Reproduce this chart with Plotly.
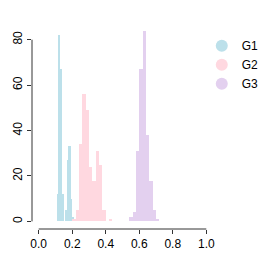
import plotly.graph_objects as go

groups = ["G1", "G2", "G3"]
colors = ["#BCE0EA", "#FFD8E0", "#E3D0EF"]

g1_bin_start = [0.11, 0.12, 0.13, 0.14, 0.15, 0.16, 0.17, 0.18, 0.19, 0.20]
g1_counts = [12, 82, 67, 12, 0, 5, 27, 33, 10, 2]
g1_width = 0.01

g2_bin_start = [0.20, 0.22, 0.24, 0.26, 0.28, 0.30, 0.32, 0.34, 0.36, 0.38, 0.40, 0.42]
g2_counts = [1, 5, 34, 56, 49, 24, 18, 31, 25, 5, 0, 1]
g2_width = 0.02

g3_bin_start = [0.54, 0.56, 0.58, 0.60, 0.62, 0.64, 0.66, 0.68, 0.70]
g3_counts = [2, 4, 31, 67, 84, 38, 18, 5, 1]
g3_width = 0.02

x_ticks = [0.0, 0.2, 0.4, 0.6, 0.8, 1.0]
x_tick_labels = ["0.0", "0.2", "0.4", "0.6", "0.8", "1.0"]
y_ticks = [0, 20, 40, 60, 80]

series = [
    (g1_bin_start, g1_counts, g1_width),
    (g2_bin_start, g2_counts, g2_width),
    (g3_bin_start, g3_counts, g3_width),
]

fig = go.Figure()
for name, col, (starts, counts, w) in zip(groups, colors, series):
    fig.add_trace(go.Bar(
        x=[s + w / 2 for s in starts], y=counts, width=w,
        marker=dict(color=col, line=dict(width=0)),
        name=name, showlegend=False,
    ))
for name, col in zip(groups, colors):
    fig.add_trace(go.Scatter(
        x=[None], y=[None], mode="markers", name=name,
        marker=dict(symbol="circle", size=11, color=col),
    ))

# the page body adds an 8px offset, so the figure is 260x260 with margins compensated
fig.update_layout(
    width=260, height=260,
    margin=dict(l=23.6, r=54.8, t=14.7, b=39.4, autoexpand=False),
    paper_bgcolor="white", plot_bgcolor="white",
    font=dict(family="Liberation Sans, Arial, sans-serif", size=12, color="black"),
    barmode="overlay", bargap=0,
    showlegend=True,
    legend=dict(x=0.938, y=0.96, xanchor="left", yanchor="top",
                font=dict(size=12), bgcolor="rgba(0,0,0,0)",
                itemsizing="constant", tracegroupgap=0),
)
fig.update_xaxes(range=[-0.04, 1.04], showgrid=False, zeroline=False, showline=False,
                 automargin=False,
                 tickmode="array", tickvals=x_ticks, ticktext=x_tick_labels,
                 ticks="outside", ticklen=4, tickcolor="#333", tickwidth=1)
fig.update_yaxes(range=[-3.36, 87.36], showgrid=False, zeroline=False, showline=False,
                 automargin=False,
                 tickmode="array", tickvals=y_ticks, tickangle=-90,
                 ticks="outside", ticklen=4, tickcolor="#333", tickwidth=1)
# R-style axis lines spanning only the tick range
fig.add_shape(type="line", xref="x", yref="paper", x0=x_ticks[0], x1=x_ticks[-1], y0=0, y1=0,
              line=dict(color="#333", width=1))
fig.add_shape(type="line", xref="paper", yref="y", x0=0, x1=0, y0=y_ticks[0], y1=y_ticks[-1],
              line=dict(color="#333", width=1))

fig.write_html("out.html")
